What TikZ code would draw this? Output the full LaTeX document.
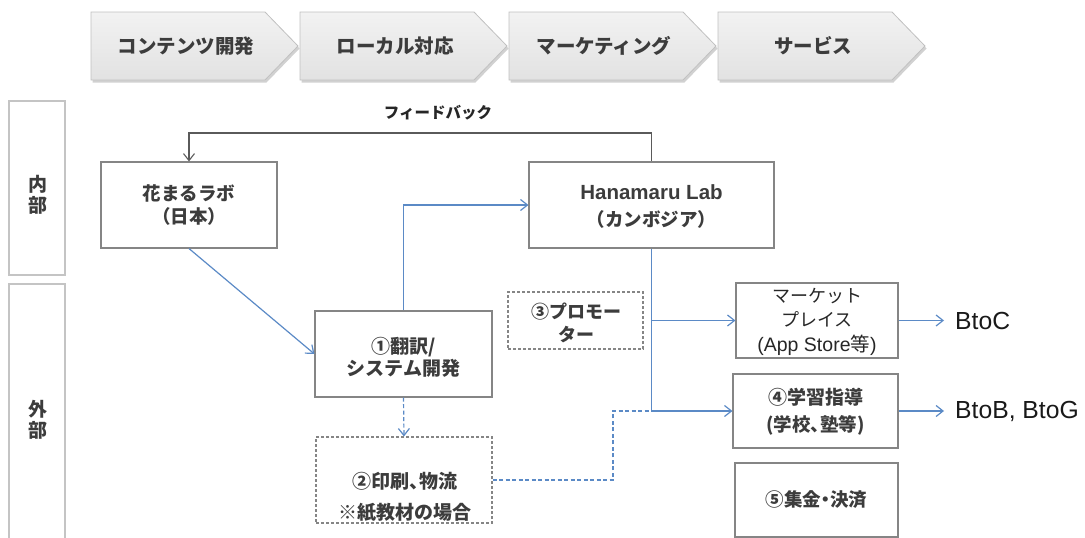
\documentclass[tikz,border=0pt]{standalone}
\usepackage{fontspec}
\setmainfont{Liberation Sans}
\newfontfamily\jp{Noto Sans CJK JP}
\newfontfamily\jpp[RawFeature=+palt]{Noto Sans CJK JP}
\newfontfamily\lat{Liberation Sans}
\usetikzlibrary{arrows.meta,calc}
\definecolor{blueline}{HTML}{5B8AC6}
\definecolor{boxdraw}{HTML}{858585}
\definecolor{txt}{HTML}{3C3C3C}
\definecolor{lbldraw}{HTML}{C4C4C4}
\definecolor{chevtop}{HTML}{F2F2F2}
\definecolor{chevbot}{HTML}{E2E2E2}
\definecolor{chevdraw}{HTML}{C0C0C0}
\definecolor{fbline}{HTML}{5A5A5A}
\begin{document}
\begin{tikzpicture}[x=1pt,y=-1pt,
  box/.style={draw=boxdraw,line width=1.1pt,rectangle,inner sep=0pt,align=center,text=txt,
    font=\jp\bfseries\fontsize{18.5}{23}\selectfont},
  dbox/.style={box,dash pattern=on 3pt off 2pt},
  lblbox/.style={draw=lbldraw,line width=1.1pt,rectangle,inner sep=0pt,minimum width=56pt},
  lbltext/.style={align=center,text=txt,font=\jp\bfseries\fontsize{19}{21}\selectfont},
  chevtext/.style={text=txt,font=\jp\bfseries\fontsize{19.5}{22}\selectfont},
  plain/.style={align=center,inner sep=0pt,text=txt},
  barb/.style={-{Straight Barb[length=7pt,width=11pt]}},
  bl/.style={draw=blueline,line width=1.2pt},
  outtext/.style={anchor=west,inner sep=0pt,text=black!90,font=\fontsize{24.7}{26}\selectfont}
]
\useasboundingbox (0,0) rectangle (1085,538);

% process chevrons
\foreach \x/\t [count=\i] in {91/コンテンツ開発,300/ローカル対応,509/マーケティング,718/サービス}{
  \fill[black,opacity=0.18] (\x+1.5,14.5) -- (\x+175.5,14.5) -- (\x+208.5,48.5) -- (\x+175.5,82.5) -- (\x+1.5,82.5) -- cycle;
  \shade[top color=chevtop,bottom color=chevbot,draw=chevdraw,line width=0.8pt]
    (\x,12) -- (\x+174,12) -- (\x+207,46) -- (\x+174,80) -- (\x,80) -- cycle;
  \node[chevtext] (chev\i) at (\x+95,46) {\t};
}

% side labels
\node[lblbox,minimum height=174pt] (inside) at (37,188) {};
\node[lbltext] (insidetxt) at (38,195) {内\\部};
\node[lblbox,minimum height=280pt] (outside) at (37,424) {};
\node[lbltext] (outsidetxt) at (38,420) {外\\部};

% boxes
\node[box,minimum width=176pt,minimum height=86pt] (hj) at (189,205) {花まるラボ\\（日本）};
\node[box,minimum width=245pt,minimum height=86pt] (hk) at (651.5,205) {};
\node[plain,font=\bfseries\fontsize{20.5}{26}\selectfont] (hktxt) at (651.5,207) {Hanamaru Lab\\[1pt]\jp\bfseries\fontsize{18.5}{23}\selectfont （カンボジア）};
\node[box,minimum width=177pt,minimum height=86pt] (t1) at (403.5,354) {};
\node[plain,font=\jp\bfseries\fontsize{19}{21.5}\selectfont] (t1txt) at (403.5,357.5) {①翻訳/\\システム開発};
\node[dbox,minimum width=176pt,minimum height=86pt] (t2) at (404,480) {};
\node[plain,font=\jpp\bfseries\fontsize{19}{31}\selectfont] (t2txt) at (405,497.5) {②印刷、物流\\\jp\bfseries ※紙教材の場合};
\node[dbox,minimum width=135pt,minimum height=57pt] (t3) at (575.5,320.5) {};
\node[plain,font=\jp\bfseries\fontsize{18}{23}\selectfont] (t3txt) at (576,322.5) {③プロモー\\ター};
\node[box,minimum width=162pt,minimum height=75pt] (mk) at (817,320.5) {};
\node[plain,text=black!85,font=\jp\fontsize{18}{24.5}\selectfont] (mktxt) at (817,322) {マーケット\\プレイス\\[0.5pt]\lat\fontsize{19.5}{24}\selectfont (App Store\jp 等\lat )};
\node[box,minimum width=165pt,minimum height=74pt] (t4) at (815.5,411) {};
\node[plain,font=\jp\bfseries\fontsize{19}{27}\selectfont] (t4txt) at (815.5,411.5) {④学習指導\\\jpp\bfseries\fontsize{18.5}{27}\selectfont (学校、塾等)};
\node[box,minimum width=163pt,minimum height=74pt,font=\jpp\bfseries\fontsize{18.5}{23}\selectfont] (t5) at (816.5,500) {⑤集金・決済};

\node[outtext] (btoc) at (955,320.5) {BtoC};
\node[outtext] (btob) at (955,411) {BtoB, BtoG};

\node[plain,text=black!85,font=\jp\bfseries\fontsize{15.5}{17}\selectfont] (fb) at (438,113) {フィードバック};

% connectors
\coordinate (fbtop) at (652,133);
\draw[draw=fbline,line width=1.1pt,barb] (hk.north) -- (hk.north |- fbtop) -| (hj.north);
\draw[bl,barb] (hj.south) -- (t1.west);
\draw[bl,barb] (t1.north) |- (hk.west);
\coordinate (j1) at (hk.south |- mk.west);
\coordinate (j2) at (hk.south |- t4.west);
\draw[bl] (hk.south) -- (j2);
\draw[bl,barb] (j1) -- (mk.west);
\draw[bl,barb] (j2) -- (t4.west);
\draw[bl,barb,dash pattern=on 4pt off 2.5pt] (t1.south) -- (t2.north);
\coordinate (dj) at (613,480);
\draw[bl,dash pattern=on 4pt off 2.5pt] (t2.east) -- (dj) -- (dj |- j2) -- (j2);
\draw[bl,barb,shorten >=11pt] (mk.east) -- (btoc.west);
\draw[bl,barb,shorten >=11pt] (t4.east) -- (btob.west);
\end{tikzpicture}
\end{document}
